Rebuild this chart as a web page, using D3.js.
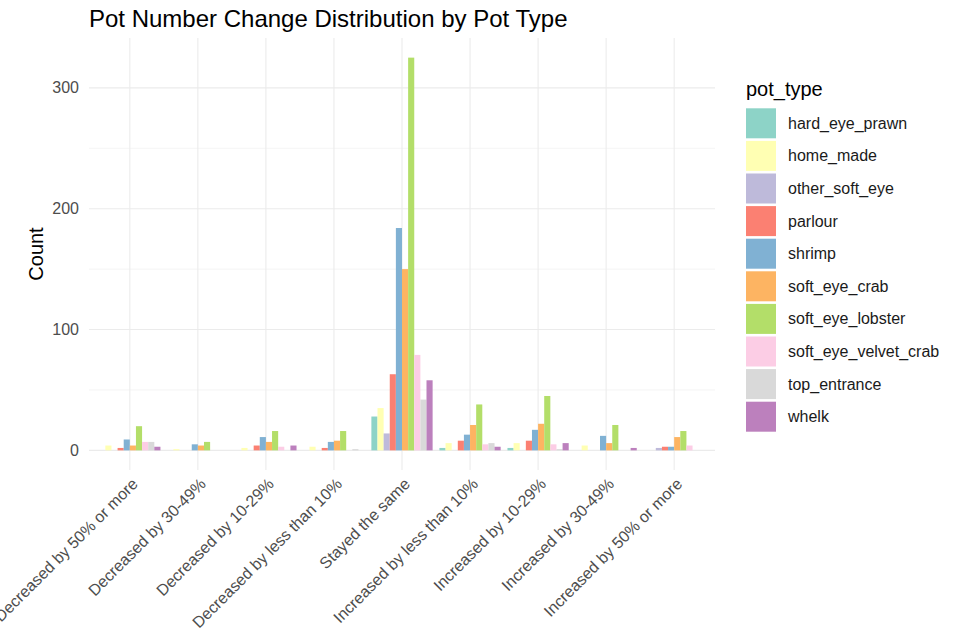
<!DOCTYPE html>
<html>
<head>
<meta charset="utf-8">
<script src="https://cdn.jsdelivr.net/npm/d3@7"></script>
<style>
  body { margin: 0; background: #fff; }
  svg { font-family: "Liberation Sans", Arial, sans-serif; }
</style>
</head>
<body>
<div id="chart"></div>
<script>
// counts, one array per pot type, in category order
const categories = [
  'Decreased by 50% or more', 'Decreased by 30-49%', 'Decreased by 10-29%',
  'Decreased by less than 10%', 'Stayed the same', 'Increased by less than 10%',
  'Increased by 10-29%', 'Increased by 30-49%', 'Increased by 50% or more'
];
const pot_types = [
  'hard_eye_prawn', 'home_made', 'other_soft_eye', 'parlour', 'shrimp',
  'soft_eye_crab', 'soft_eye_lobster', 'soft_eye_velvet_crab', 'top_entrance', 'whelk'
];
const hard_eye_prawn       = [0, 0, 0, 0, 28, 2, 2, 0, 0];
const home_made            = [4, 1, 2, 3, 35, 6, 6, 4, 0];
const other_soft_eye       = [0, 0, 0, 0, 14, 0, 0, 0, 2];
const parlour              = [2, 0, 4, 2, 63, 8, 8, 0, 3];
const shrimp               = [9, 5, 11, 7, 184, 13, 17, 12, 3];
const soft_eye_crab        = [4, 4, 7, 8, 150, 21, 22, 6, 11];
const soft_eye_lobster     = [20, 7, 16, 16, 325, 38, 45, 21, 16];
const soft_eye_velvet_crab = [7, 0, 3, 0, 79, 5, 5, 0, 4];
const top_entrance         = [7, 0, 0, 1, 42, 6, 1, 0, 0];
const whelk                = [3, 0, 4, 0, 58, 3, 6, 2, 0];
const y_ticks = [0, 100, 200, 300];
const y_minor = [50, 150, 250];
const colors = ['#8DD3C7', '#FFFFB3', '#BEBADA', '#FB8072', '#80B1D3',
                '#FDB462', '#B3DE69', '#FCCDE5', '#D9D9D9', '#BC80BD'];

const counts = [hard_eye_prawn, home_made, other_soft_eye, parlour, shrimp,
                soft_eye_crab, soft_eye_lobster, soft_eye_velvet_crab, top_entrance, whelk];

// flatten to one row per bar
const data = [];
categories.forEach((cat, i) => {
  pot_types.forEach((pt, j) => data.push({cat, pt, n: counts[j][i]}));
});

const width = 954, height = 635;
const margin = {top: 38, right: 239, bottom: 165, left: 89};

const svg = d3.select('#chart').append('svg')
  .attr('width', width).attr('height', height);

// ggplot-style discrete axis: each category slot = 1 unit, 0.6 unit expansion each side
const x = d3.scalePoint()
  .domain(categories)
  .range([margin.left, width - margin.right])
  .padding(0.6);
const xc = cat => x(cat);
const step = x.step();

const groupW = step * 0.9;
const xi = d3.scaleBand().domain(pot_types).range([-groupW / 2, groupW / 2]);

const ymax = d3.max(data, d => d.n);
const y = d3.scaleLinear()
  .domain([-ymax * 0.05, ymax * 1.05])
  .range([height - margin.bottom, margin.top]);

const color = d3.scaleOrdinal().domain(pot_types).range(colors);

// grid
const grid = svg.append('g');
grid.selectAll('line.minor').data(y_minor).join('line')
  .attr('x1', margin.left).attr('x2', width - margin.right)
  .attr('y1', d => y(d)).attr('y2', d => y(d))
  .attr('stroke', '#EBEBEB').attr('stroke-width', 0.55);
grid.selectAll('line.major').data(y_ticks).join('line')
  .attr('x1', margin.left).attr('x2', width - margin.right)
  .attr('y1', d => y(d)).attr('y2', d => y(d))
  .attr('stroke', '#EBEBEB').attr('stroke-width', 1.07);
grid.selectAll('line.vx').data(categories).join('line')
  .attr('x1', d => xc(d)).attr('x2', d => xc(d))
  .attr('y1', margin.top).attr('y2', height - margin.bottom)
  .attr('stroke', '#EBEBEB').attr('stroke-width', 1.07);

// bars
svg.append('g').selectAll('rect').data(data).join('rect')
  .attr('x', d => xc(d.cat) + xi(d.pt))
  .attr('width', xi.bandwidth())
  .attr('y', d => y(d.n))
  .attr('height', d => y(0) - y(d.n))
  .attr('fill', d => color(d.pt));

// y axis labels
svg.append('g').selectAll('text').data(y_ticks).join('text')
  .attr('x', margin.left - 10)
  .attr('y', d => y(d))
  .attr('dy', '0.35em')
  .attr('text-anchor', 'end')
  .attr('font-size', 16)
  .attr('fill', '#4D4D4D')
  .text(d => d);

// x axis labels, rotated 45
svg.append('g').selectAll('text').data(categories).join('text')
  .attr('transform', d => `translate(${xc(d) + 9},${height - margin.bottom + 15}) rotate(-45)`)
  .attr('text-anchor', 'end')
  .attr('font-size', 16)
  .attr('fill', '#4D4D4D')
  .text(d => d);

// axis title
svg.append('text')
  .attr('transform', `translate(43,${(margin.top + height - margin.bottom) / 2}) rotate(-90)`)
  .attr('text-anchor', 'middle')
  .attr('font-size', 20)
  .attr('fill', '#000')
  .text('Count');

// title
svg.append('text')
  .attr('x', margin.left).attr('y', 27)
  .attr('font-size', 24)
  .attr('fill', '#000')
  .text('Pot Number Change Distribution by Pot Type');

// legend
const legend = svg.append('g').attr('transform', 'translate(746,0)');
legend.append('text')
  .attr('x', 0).attr('y', 96)
  .attr('font-size', 20)
  .attr('fill', '#000')
  .text('pot_type');
const keys = legend.selectAll('g.key').data(pot_types).join('g')
  .attr('transform', (d, i) => `translate(0,${108.3 + i * 32.6})`);
keys.append('rect')
  .attr('width', 30).attr('height', 30)
  .attr('fill', d => color(d));
keys.append('text')
  .attr('x', 42).attr('y', 15).attr('dy', '0.35em')
  .attr('font-size', 16)
  .attr('fill', '#1A1A1A')
  .text(d => d);
</script>
</body>
</html>
